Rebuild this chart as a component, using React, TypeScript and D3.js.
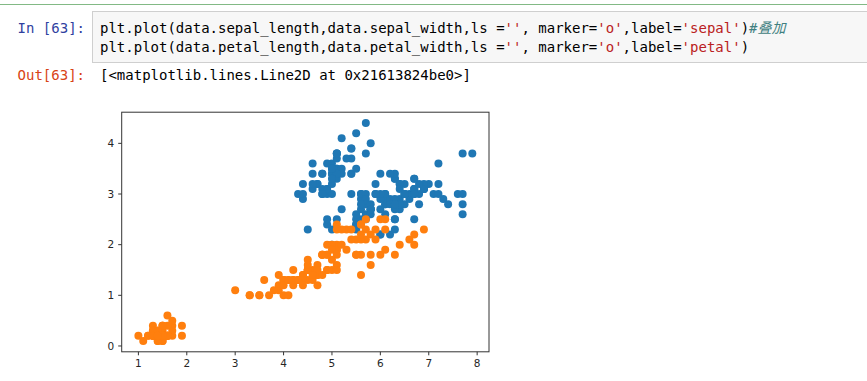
import React from "react";
import * as d3 from "d3";

const sepalLength = [5.1,4.9,4.7,4.6,5.0,5.4,4.6,5.0,4.4,4.9,5.4,4.8,4.8,4.3,5.8,5.7,5.4,5.1,5.7,5.1,5.4,5.1,4.6,5.1,4.8,5.0,5.0,5.2,5.2,4.7,4.8,5.4,5.2,5.5,4.9,5.0,5.5,4.9,4.4,5.1,5.0,4.5,4.4,5.0,5.1,4.8,5.1,4.6,5.3,5.0,
7.0,6.4,6.9,5.5,6.5,5.7,6.3,4.9,6.6,5.2,5.0,5.9,6.0,6.1,5.6,6.7,5.6,5.8,6.2,5.6,5.9,6.1,6.3,6.1,6.4,6.6,6.8,6.7,6.0,5.7,5.5,5.5,5.8,6.0,5.4,6.0,6.7,6.3,5.6,5.5,5.5,6.1,5.8,5.0,5.6,5.7,5.7,6.2,5.1,5.7,
6.3,5.8,7.1,6.3,6.5,7.6,4.9,7.3,6.7,7.2,6.5,6.4,6.8,5.7,5.8,6.4,6.5,7.7,7.7,6.0,6.9,5.6,7.7,6.3,6.7,7.2,6.2,6.1,6.4,7.2,7.4,7.9,6.4,6.3,6.1,7.7,6.3,6.4,6.0,6.9,6.7,6.9,5.8,6.8,6.7,6.7,6.3,6.5,6.2,5.9];
const sepalWidth = [3.5,3.0,3.2,3.1,3.6,3.9,3.4,3.4,2.9,3.1,3.7,3.4,3.0,3.0,4.0,4.4,3.9,3.5,3.8,3.8,3.4,3.7,3.6,3.3,3.4,3.0,3.4,3.5,3.4,3.2,3.1,3.4,4.1,4.2,3.1,3.2,3.5,3.6,3.0,3.4,3.5,2.3,3.2,3.5,3.8,3.0,3.8,3.2,3.7,3.3,
3.2,3.2,3.1,2.3,2.8,2.8,3.3,2.4,2.9,2.7,2.0,3.0,2.2,2.9,2.9,3.1,3.0,2.7,2.2,2.5,3.2,2.8,2.5,2.8,2.9,3.0,2.8,3.0,2.9,2.6,2.4,2.4,2.7,2.7,3.0,3.4,3.1,2.3,3.0,2.5,2.6,3.0,2.6,2.3,2.7,3.0,2.9,2.9,2.5,2.8,
3.3,2.7,3.0,2.9,3.0,3.0,2.5,2.9,2.5,3.6,3.2,2.7,3.0,2.5,2.8,3.2,3.0,3.8,2.6,2.2,3.2,2.8,2.8,2.7,3.3,3.2,2.8,3.0,2.8,3.0,2.8,3.8,2.8,2.8,2.6,3.0,3.4,3.1,3.0,3.1,3.1,3.1,2.7,3.2,3.3,3.0,2.5,3.0,3.4,3.0];
const petalLength = [1.4,1.4,1.3,1.5,1.4,1.7,1.4,1.5,1.4,1.5,1.5,1.6,1.4,1.1,1.2,1.5,1.3,1.4,1.7,1.5,1.7,1.5,1.0,1.7,1.9,1.6,1.6,1.5,1.4,1.6,1.6,1.5,1.5,1.4,1.5,1.2,1.3,1.4,1.3,1.5,1.3,1.3,1.3,1.6,1.9,1.4,1.6,1.4,1.5,1.4,
4.7,4.5,4.9,4.0,4.6,4.5,4.7,3.3,4.6,3.9,3.5,4.2,4.0,4.7,3.6,4.4,4.5,4.1,4.5,3.9,4.8,4.0,4.9,4.7,4.3,4.4,4.8,5.0,4.5,3.5,3.8,3.7,3.9,5.1,4.5,4.5,4.7,4.4,4.1,4.0,4.4,4.6,4.0,3.3,4.2,4.2,4.2,4.3,3.0,4.1,
6.0,5.1,5.9,5.6,5.8,6.6,4.5,6.3,5.8,6.1,5.1,5.3,5.5,5.0,5.1,5.3,5.5,6.7,6.9,5.0,5.7,4.9,6.7,4.9,5.7,6.0,4.8,4.9,5.6,5.8,6.1,6.4,5.6,5.1,5.6,6.1,5.6,5.5,4.8,5.4,5.6,5.1,5.1,5.9,5.7,5.2,5.0,5.2,5.4,5.1];
const petalWidth = [0.2,0.2,0.2,0.2,0.2,0.4,0.3,0.2,0.2,0.1,0.2,0.2,0.1,0.1,0.2,0.4,0.4,0.3,0.3,0.3,0.2,0.4,0.2,0.5,0.2,0.2,0.4,0.2,0.2,0.2,0.2,0.4,0.1,0.2,0.2,0.2,0.2,0.1,0.2,0.2,0.3,0.3,0.2,0.6,0.4,0.3,0.2,0.2,0.2,0.2,
1.4,1.5,1.5,1.3,1.5,1.3,1.6,1.0,1.3,1.4,1.0,1.5,1.0,1.4,1.3,1.4,1.5,1.0,1.5,1.1,1.8,1.3,1.5,1.2,1.3,1.4,1.4,1.7,1.5,1.0,1.1,1.0,1.2,1.6,1.5,1.6,1.5,1.3,1.3,1.3,1.2,1.4,1.2,1.0,1.3,1.2,1.3,1.3,1.1,1.3,
2.5,1.9,2.1,1.8,2.2,2.1,1.7,1.8,1.8,2.5,2.0,1.9,2.1,2.0,2.4,2.3,1.8,2.2,2.3,1.5,2.3,2.0,2.0,1.8,2.1,1.8,1.8,1.8,2.1,1.6,1.9,2.0,2.2,1.5,1.4,2.3,2.4,1.8,1.8,2.1,2.4,2.3,1.9,2.3,2.5,2.3,1.9,2.0,2.3,1.8];

const xTicks = [1, 2, 3, 4, 5, 6, 7, 8];
const yTicks = [0, 1, 2, 3, 4];
const seriesColors = ["#1f77b4", "#ff7f0e"];

const MONO = "'DejaVu Sans Mono', 'Noto Sans CJK SC', monospace";

export default function App() {
  const left = 121.7, right = 489, top = 112.2, bottom = 351.8;
  const allX = sepalLength.concat(petalLength);
  const allY = sepalWidth.concat(petalWidth);
  const [x0, x1] = d3.extent(allX) as [number, number];
  const [y0, y1] = d3.extent(allY) as [number, number];
  const mx = (x1 - x0) * 0.05, my = (y1 - y0) * 0.05;
  const xs = d3.scaleLinear().domain([x0 - mx, x1 + mx]).range([left, right]);
  const ys = d3.scaleLinear().domain([y0 - my, y1 + my]).range([bottom, top]);

  const series = [
    { xs: sepalLength, ys: sepalWidth, color: seriesColors[0] },
    { xs: petalLength, ys: petalWidth, color: seriesColors[1] },
  ];

  const codeStyle: React.CSSProperties = { whiteSpace: "pre" };
  return (
    <svg width={867} height={381} style={{ position: "absolute", left: 0, top: 0, background: "#fff" }}>
      <rect x={0} y={0} width={867} height={381} fill="#fff" />
      <line x1={0} x2={867} y1={4.5} y2={4.5} stroke="#82b985" strokeWidth={1} />
      <rect x={92.5} y={11.5} width={800} height={51} fill="#f7f7f7" stroke="#cfcfcf" />
      <text x={85} y={33} textAnchor="end" fontFamily={MONO} fontSize={14} fill="#303F9F" style={codeStyle}>In [63]:</text>
      <text x={100} y={33} fontFamily={MONO} fontSize={14} fill="#000" style={codeStyle}>
        <tspan>plt.plot(data.sepal_length,data.sepal_width,ls =</tspan>
        <tspan fill="#BA2121">''</tspan>
        <tspan>, marker=</tspan>
        <tspan fill="#BA2121">'o'</tspan>
        <tspan>,label=</tspan>
        <tspan fill="#BA2121">'sepal'</tspan>
        <tspan>)</tspan>
        <tspan fill="#408080" fontStyle="italic">#叠加</tspan>
      </text>
      <text x={100} y={52} fontFamily={MONO} fontSize={14} fill="#000" style={codeStyle}>
        <tspan>plt.plot(data.petal_length,data.petal_width,ls =</tspan>
        <tspan fill="#BA2121">''</tspan>
        <tspan>, marker=</tspan>
        <tspan fill="#BA2121">'o'</tspan>
        <tspan>,label=</tspan>
        <tspan fill="#BA2121">'petal'</tspan>
        <tspan>)</tspan>
      </text>
      <text x={85} y={80} textAnchor="end" fontFamily={MONO} fontSize={14} fill="#D84315" style={codeStyle}>Out[63]:</text>
      <text x={100} y={80} fontFamily={MONO} fontSize={14} fill="#000" style={codeStyle}>[&lt;matplotlib.lines.Line2D at 0x21613824be0&gt;]</text>

      <rect x={left} y={top} width={right - left} height={bottom - top} fill="#fff" />
      {series.map((s, si) => (
        <g key={si} fill={s.color}>
          {s.xs.map((v, i) => (
            <circle key={i} cx={xs(v)} cy={ys(s.ys[i])} r={4} />
          ))}
        </g>
      ))}
      <rect x={left} y={top} width={right - left} height={bottom - top} fill="none" stroke="#333" strokeWidth={1} />
      {xTicks.map((t) => (
        <g key={t}>
          <line x1={xs(t)} x2={xs(t)} y1={bottom} y2={bottom + 3.5} stroke="#333" />
          <text x={xs(t)} y={bottom + 15} textAnchor="middle" fontFamily="'DejaVu Sans', sans-serif" fontSize={10.5} fill="#262626">{t}</text>
        </g>
      ))}
      {yTicks.map((t) => (
        <g key={t}>
          <line x1={left - 3.5} x2={left} y1={ys(t)} y2={ys(t)} stroke="#333" />
          <text x={left - 7.5} y={ys(t) + 3.8} textAnchor="end" fontFamily="'DejaVu Sans', sans-serif" fontSize={10.5} fill="#262626">{t}</text>
        </g>
      ))}
    </svg>
  );
}
